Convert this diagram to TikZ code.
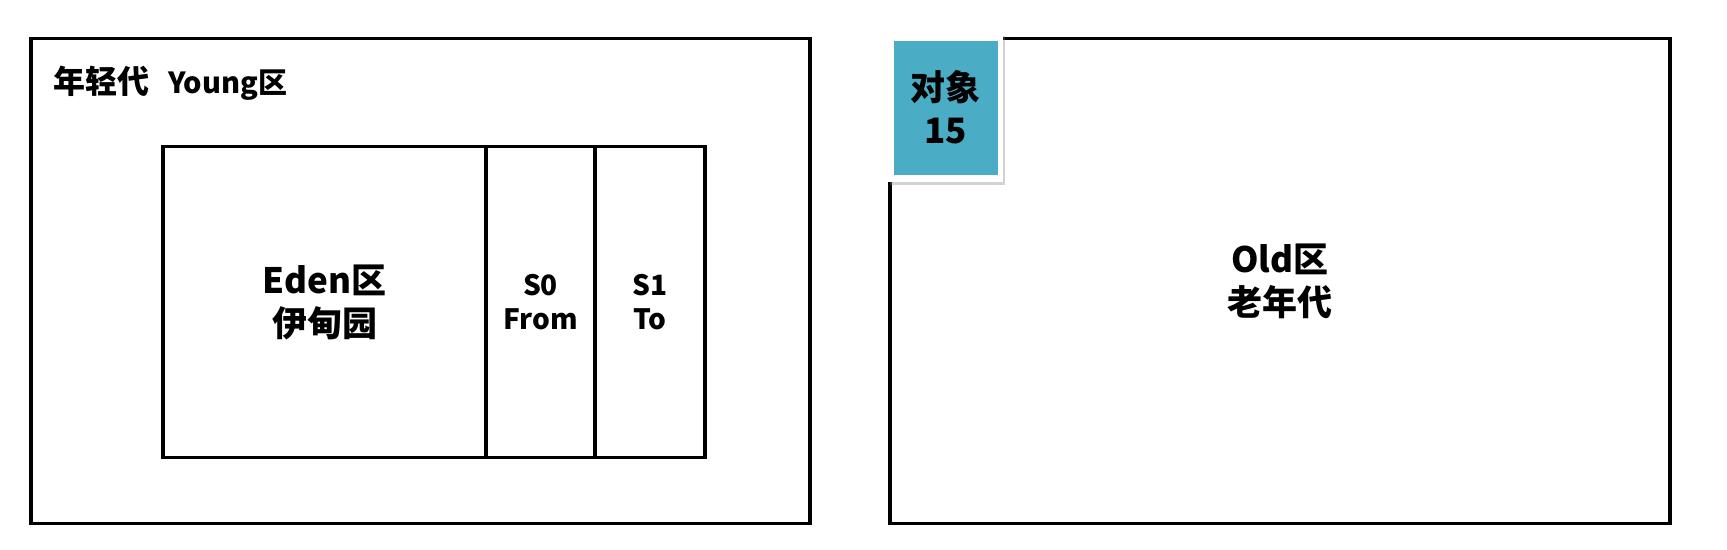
\documentclass[tikz,border=0pt]{standalone}
\usepackage{fontspec}
\setmainfont{Noto Sans CJK SC}
\usetikzlibrary{shadows}
\definecolor{teal1}{HTML}{4BACC6}
\tikzset{
  x=1pt, y=-1pt,
  area/.style={draw=black, line width=3.3pt, fill=white, inner sep=0pt, align=center},
  big/.style={font=\fontsize{35}{43}\selectfont\bfseries},
  small/.style={font=\fontsize{28}{34}\selectfont\bfseries},
}
\begin{document}
\begin{tikzpicture}
\useasboundingbox (0,0) rectangle (1727,549);
% young generation
\node[area, minimum width=779pt, minimum height=485.5pt] (young) at (420.5,281) {};
\node[anchor=west, inner sep=0pt, font=\fontsize{32}{38}\selectfont\bfseries] (ytitle) at (53,83) {年轻代\hspace{19pt}{\fontsize{29}{34}\selectfont Young区}};
% eden / survivors
\node[area, big, minimum width=323pt, minimum height=310.5pt] (eden) at (324.5,302) {Eden区\\伊甸园};
\node[area, small, minimum width=109pt, minimum height=310.5pt] (s0) at (540.5,302) {S0\\From};
\node[area, small, minimum width=110pt, minimum height=310.5pt] (s1) at (650,302) {S1\\To};
% old generation
\node[area, big, minimum width=780pt, minimum height=485.5pt] (old) at (1280,281) {Old区\\老年代};
% object
\node[fill=white, minimum width=115pt, minimum height=149pt, inner sep=0pt,
      drop shadow={opacity=0.35, shadow xshift=1.5pt, shadow yshift=-3pt}] (objframe) at (945.5,107.5) {};
\node[fill=teal1, big, minimum width=104pt, minimum height=134pt, inner sep=0pt, align=center] (obj) at (objframe.center) {对象\\15};
\end{tikzpicture}
\end{document}
